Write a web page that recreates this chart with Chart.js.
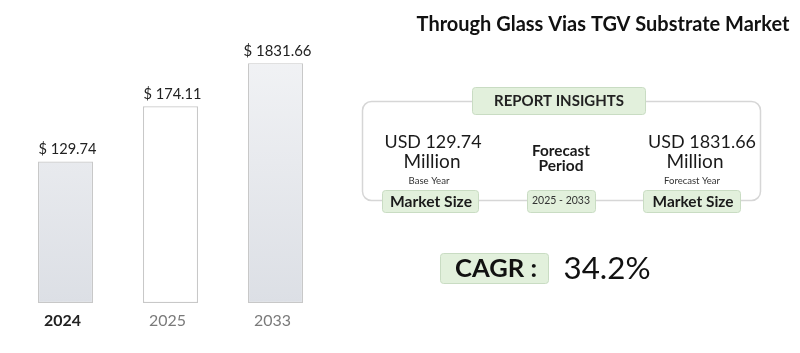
<!DOCTYPE html>
<html><head><meta charset="utf-8">
<script src="https://cdn.jsdelivr.net/npm/chart.js@4.4.1/dist/chart.umd.min.js"></script>
<style>html,body{margin:0;padding:0;background:#fff;}#wrap{width:800px;height:353px;}</style>
</head><body><div id="wrap"><canvas id="c" width="800" height="353"></canvas></div>
<script>
const categories = ["2024", "2025", "2033"];
const values = [129.74, 174.11, 1831.66];
// displayed (decorative) relative bar heights
const displayHeights = [0.59, 0.82, 1.0];
const title = "Through Glass Vias TGV Substrate Market";
const baseYearValue = "USD 129.74";
const forecastYearValue = "USD 1831.66";
const forecastPeriod = "2025 - 2033";
const cagr = "34.2%";

const FAM = "Lato, 'Open Sans', sans-serif";

function fitText(ctx, text, weight, width, cx, cy, color) {
  ctx.font = weight + " 20px " + FAM;
  const w = ctx.measureText(text).width;
  const size = 20 * width / w;
  ctx.font = weight + " " + size.toFixed(2) + "px " + FAM;
  ctx.fillStyle = color;
  ctx.textAlign = "center";
  ctx.textBaseline = "middle";
  ctx.fillText(text, cx, cy);
}
function rrect(ctx, x, y, w, h, r) {
  ctx.beginPath();
  ctx.moveTo(x + r, y);
  ctx.arcTo(x + w, y, x + w, y + h, r);
  ctx.arcTo(x + w, y + h, x, y + h, r);
  ctx.arcTo(x, y + h, x, y, r);
  ctx.arcTo(x, y, x + w, y, r);
  ctx.closePath();
}
function greenBox(ctx, x, y, w, h) {
  rrect(ctx, x, y, w, h, 3);
  ctx.fillStyle = "#e2f0dc";
  ctx.fill();
  ctx.strokeStyle = "#c9dcc3";
  ctx.lineWidth = 1;
  ctx.stroke();
}

const infoPlugin = {
  id: "info",
  afterDraw(chart) {
    const ctx = chart.ctx;
    const xs = chart.scales.x, ys = chart.scales.y;
    ctx.save();
    // value labels and category labels
    const meta = chart.getDatasetMeta(0);
    categories.forEach((c, i) => {
      const bar = meta.data[i];
      const cx = xs.getPixelForValue(i);
      fitText(ctx, "$ " + values[i].toFixed(2), "normal", values[i] > 1000 ? 68 : 58, cx + 2, bar.y - 12, "#222");
      fitText(ctx, c, i === 0 ? "bold" : "normal", 37, cx - 3, ys.getPixelForValue(0) + 18, i === 0 ? "#222" : "#7a7a7a");
    });
    // title
    fitText(ctx, title, "bold", 373, 603, 25, "#111");
    // panel
    rrect(ctx, 362.5, 101.5, 398, 99, 9);
    ctx.strokeStyle = "#d6d6d6";
    ctx.lineWidth = 1.5;
    ctx.stroke();
    greenBox(ctx, 472.5, 87.5, 173, 27);
    fitText(ctx, "REPORT INSIGHTS", "bold", 130, 559, 101, "#222");
    // left
    fitText(ctx, baseYearValue, "normal", 97, 433, 142, "#1a1a1a");
    fitText(ctx, "Million", "normal", 57, 432, 162, "#1a1a1a");
    fitText(ctx, "Base Year", "normal", 41, 429, 181, "#333");
    greenBox(ctx, 382.5, 190.5, 96, 22);
    fitText(ctx, "Market Size", "bold", 82, 431, 202, "#1a1a1a");
    // middle
    fitText(ctx, "Forecast", "bold", 58, 561, 151, "#1a1a1a");
    fitText(ctx, "Period", "bold", 45, 561, 166, "#1a1a1a");
    greenBox(ctx, 527.5, 190.5, 68, 22);
    fitText(ctx, forecastPeriod, "normal", 58, 561, 201, "#333");
    // right
    fitText(ctx, forecastYearValue, "normal", 108, 702, 142, "#1a1a1a");
    fitText(ctx, "Million", "normal", 57, 695, 162, "#1a1a1a");
    fitText(ctx, "Forecast Year", "normal", 56, 692, 181, "#333");
    greenBox(ctx, 643.5, 190.5, 97, 22);
    fitText(ctx, "Market Size", "bold", 81, 693, 202, "#1a1a1a");
    // CAGR
    greenBox(ctx, 440.5, 253.5, 108, 30);
    fitText(ctx, "CAGR :", "bold", 82, 496, 269, "#111");
    fitText(ctx, cagr, "normal", 87, 607, 269, "#111");
    ctx.restore();
  }
};

new Chart(document.getElementById("c"), {
  type: "bar",
  data: {
    labels: categories,
    datasets: [{
      data: displayHeights,
      backgroundColor(ctx) {
        const chart = ctx.chart;
        const area = chart.chartArea;
        if (!area) return "#eee";
        if (ctx.dataIndex === 1) return "#ffffff";
        const el = chart.getDatasetMeta(0).data[ctx.dataIndex];
        const top = el && isFinite(el.y) ? el.y : area.top;
        const g = chart.ctx.createLinearGradient(0, top, 0, area.bottom);
        g.addColorStop(0, "#f4f5f7");
        g.addColorStop(1, "#dcdfe5");
        return g;
      },
      borderColor: "#c8c8c8",
      borderWidth: 1.2,
      borderSkipped: false,
      barPercentage: 0.524,
      categoryPercentage: 1.0
    }]
  },
  options: {
    responsive: false,
    animation: false,
    events: [],
    layout: { padding: { left: 13, right: 472, top: 20, bottom: 50 } },
    plugins: { legend: { display: false }, tooltip: { enabled: false } },
    scales: {
      x: { display: false },
      y: { display: false, min: 0, max: 1.18 }
    }
  },
  plugins: [infoPlugin]
});
</script></body></html>
